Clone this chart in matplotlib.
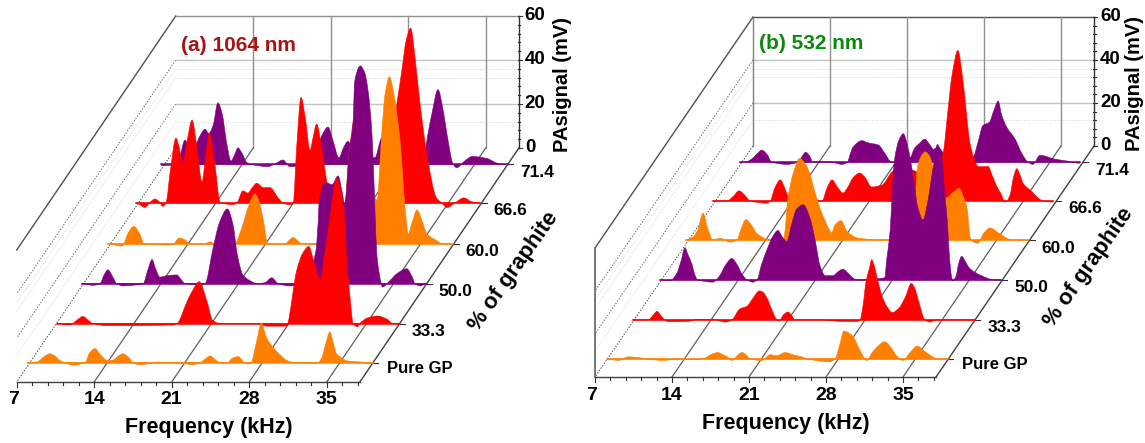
import matplotlib
matplotlib.use('Agg')
import matplotlib.pyplot as plt
from matplotlib.path import Path
from matplotlib.patches import PathPatch

plt.rcParams['font.family'] = ['Liberation Sans', 'DejaVu Sans']

PURPLE = '#800080'
RED = '#ff0000'
ORANGE = '#ff8000'

# (frequency kHz, signal mV), back row first
a_714 = [(6.7,-.5),(7.9,-.3),(8.3,2),(8.84,11),(9.3,8),(9.7,8),(10.2,13),(10.65,16),(11,14),(11.4,18),(11.82,28),
         (12.2,23),(12.6,10),(13,1.5),(13.3,4),(13.63,7.5),(14,5),(14.4,1),(14.8,0),(16.34,-1),(17,.3),(17.7,2),
         (18.3,-1),(20,0),(20.8,8),(21.3,14),(21.76,17),(22.2,11),(22.75,3),(23.2,8),(23.57,10.5),(24,7),(24.8,3),
         (26,3),(26.6,12),(27.5,14),(29,5),(30.3,0),(30.8,14),(31.15,23),(31.7,34),(32.15,25),(32.5,14),(33.07,0),
         (33.4,-1.5),(34.1,1.5),(34.8,3.6),(36.1,2.7),(37.1,.5),(37.9,0)]
a_666 = [(6.8,0),(7.6,-2),(8.1,.5),(8.5,1.8),(8.9,.5),(9.2,-1.5),(9.5,0),(9.9,15),(10.4,29.5),(10.7,25),(11,18),
         (11.4,28),(11.85,37.7),(12.3,25),(12.75,9.5),(13.1,22),(13.4,31.8),(13.9,18),(14.4,0),(15.55,-.7),(15.9,0),
         (16.45,5.5),(16.9,4.5),(17.3,7),(17.7,9),(18.27,7),(18.9,7),(19.6,2.5),(20.07,0),(20.7,-.8),(21,0),(21.3,25),
         (21.7,48),(22.1,38),(22.5,24),(22.8,30),(23.1,35.9),(23.6,24),(24.1,8),(24.8,0),(28.5,0),(29.3,10),(30.2,40),
         (30.8,60),(31.2,74),(31.6,79.5),(32,66),(32.4,47),(33.1,21),(33.9,2.7),(34.4,0),(34.9,-2),(35.6,0),(36.4,2.3),
         (37.1,.6),(37.85,0)]
a_600 = [(6.8,0),(8.04,-1),(8.2,0),(8.6,5),(9.1,8),(9.7,4),(10,0),(12.4,-.5),(12.7,0),(13.2,2.7),(13.7,2),(14.2,0),
         (15.5,0),(16,1),(16.4,0),(18.25,0),(18.7,5),(19.15,12),(19.6,19),(20.05,22.7),(20.5,18),(20.87,9),(21.2,0),
         (22.8,0),(23.1,1.5),(23.5,3),(23.9,1.5),(24.3,0),(27.7,0),(28.2,18),(28.5,38),(28.9,55),(29.3,62),(30,50),
         (30.6,25),(31.07,20),(31.5,50),(31.8,68),(32.2,76),(32.6,68),(33.15,47),(33.6,17),(33.9,4.5),(34.2,9),
         (34.7,15.5),(35.1,11),(35.6,4.5),(36.5,1.4),(37,0),(37.9,0)]
a_500 = [(6.85,0),(7.85,-.7),(8.5,0),(8.86,4),(9.2,6.3),(9.66,3),(10,0),(10.6,-1),(11.8,-.5),(12.4,0),(12.8,6),(13.2,11),
         (13.5,7),(13.9,3),(14.5,3.6),(15.45,4),(15.8,2),(16.2,0),(17.8,-.5),(18,0),(18.7,16),(19.3,28),(20,34),(20.5,27),
         (20.9,13),(21.4,4),(22,1.5),(22.7,0),(23.4,.5),(24,2.7),(24.6,0),(25.65,-1),(27,-.5),(28,15),(28.2,28),(28.3,38),
         (28.9,46),(29.45,45),(30,49),(30.35,42),(30.6,36),(31,60),(31.35,73),(31.5,92),(32,99),(32.4,96),(32.7,88),
         (33.06,68),(33.3,38),(33.5,13),(33.9,0),(34,-1.5),(34.7,1.5),(35.3,4.5),(36.2,6.8),(36.7,3),(36.95,0),(37.4,-1),(38,0)]
a_333 = [(7.05,0),(8.2,-.7),(8.85,1.5),(9.4,3.2),(9.85,1.5),(10.3,0),(11.56,-1),(17.5,-.7),(17.9,0),(18.8,10),(19.3,15),
         (19.9,19),(20.6,10),(21.1,1.5),(21.8,0),(25.1,0),(26,-1.2),(27.8,-1.2),(27.9,0),(28.7,24),(29.25,32),(29.8,35),
         (30.15,30),(30.5,24),(30.8,20),(31.25,32),(31.7,48),(32.3,66),(32.7,60),(33.05,48),(33.2,31),(33.5,13),(33.8,0),
         (34.2,-1.5),(34.4,0),(35.1,2.5),(36,3.4),(36.85,2),(37.4,0),(38,0)]
a_pure = [(6.83,0),(7.64,.3),(8.36,3),(8.8,4),(9.27,3),(9.7,1),(10.2,0),(10.9,-1.2),(11.7,-.5),(12,0),(12.4,4.5),(12.9,6.4),
          (13.3,4),(14,1),(14.4,1),(15,3),(15.4,4),(15.9,2.5),(16.3,0),(16.9,-1),(17.8,-.5),(18.5,.2),(20.8,-.2),(21.6,-1),
          (22.4,0),(22.8,1.5),(23.3,3),(23.7,1.5),(24.2,0),(24.8,-.2),(25.3,2),(25.8,2.7),(26.4,0),(26.9,-.5),(27,0),
          (27.5,10),(27.9,18),(28.4,11),(28.96,7),(29.6,3.5),(30.2,1),(30.9,0),(33,-.2),(33.35,2),(33.7,8),(34.1,14),
          (34.4,9),(34.7,4),(35.2,2),(35.6,.8),(36.8,.3),(38,-.5)]

b_714 = [(6.8,0),(7.45,.3),(7.9,1.5),(8.4,4),(8.8,5.6),(9.3,3.5),(9.7,0),(11.1,-1),(11.8,-.5),(12.3,1.5),(12.8,4.6),(13.2,2.5),
         (13.4,0),(14.1,.3),(14.8,.3),(16.1,-1),(16.6,0),(16.8,3),(17.1,7),(17.9,10),(18.45,9),(19.4,8),(20,4),(20.6,0),
         (21.8,0),(22.3,2),(22.7,6.5),(23.2,9),(23.6,10.7),(24.1,8),(24.4,6),(24.8,7),(25.5,3),(26.4,0),(27.3,0),(28,2),
         (28.5,10),(28.9,17),(29.5,18.6),(29.9,24),(30.3,28.4),(30.6,22),(31.1,16),(31.8,11),(32.45,4),(33,0),(33.45,-1),
         (34.1,3.2),(35.45,1.4),(36.6,.5),(37.7,-.5)]
b_666 = [(6.8,0),(8.05,0),(8.6,2),(9.15,4.7),(9.7,2.5),(10.15,0),(11.7,-1),(12,0),(12.4,6),(12.9,9.8),(13.3,6),(13.6,2),
         (13.8,0),(16.7,0),(17.15,6),(17.6,9.8),(18.15,6),(18.6,3.7),(19.05,6.5),(19.5,10.7),(20.1,13),(20.6,11),(21.2,6.5),
         (22.15,7.4),(23.05,13.5),(23.8,16),(25.1,14),(26.5,12),(27.2,15),(27.7,22),(28.1,40),(28.5,58),(29.05,70),(29.5,56),
         (29.8,42),(30.1,28),(30.5,20),(30.9,16),(31.8,16),(32.15,12),(32.6,6.5),(33,3),(33.3,-.5),(33.5,0),(33.8,3),(34.1,11),
         (34.4,15),(34.7,12),(35,8),(35.8,4.2),(36.3,1.5),(36.8,0),(37.7,-.5)]
b_600 = [(6.75,0),(7.4,1.5),(7.85,5),(8.3,12.5),(8.75,5),(9.2,0),(9.85,.8),(10.75,-1),(11.4,0),(11.75,5),(12.2,9.5),(12.7,7),
         (13.2,3),(14.4,0),(15.6,0),(15.75,4),(16,18.6),(16.5,31),(17.1,38),(17.65,35),(18,31),(18.55,21),(19.1,12.5),(19.4,9),
         (19.75,5),(20,3.4),(20.3,7),(20.85,9),(21.4,4),(22.3,1),(24.3,0),(27.05,0),(27.55,15),(27.8,34),(28.15,39),(28.5,41),
         (28.9,39),(29.1,36),(29.8,25),(30.4,19.5),(31,22),(31.6,24),(31.9,21),(32.3,15),(32.6,1),(32.9,-1),(33.3,-1.5),(33.8,3),
         (34.4,5.6),(35.3,2.8),(36.4,0),(37.85,0)]
b_500 = [(6.9,0),(7.8,-.3),(8.4,3),(8.8,9),(9.15,15),(9.4,12),(9.8,7),(10,3),(10.3,0),(11.7,-1),(12.3,2),(12.85,7),(13.4,10),
         (13.9,7),(14.3,3),(14.8,0),(15.3,-1),(15.7,0),(16.1,7),(16.6,14),(17.1,20),(17.6,23),(18,20),(18.4,18),(18.9,27),
         (19.3,33),(19.9,35),(20.5,29),(21,18),(21.4,7),(21.9,2),(22.6,2),(23.1,4),(23.5,5),(24,3),(24.4,1),(24.8,0),(27.3,1),
         (27.5,10),(27.8,23),(27.95,37),(28.2,56),(28.6,65),(29,68),(29.4,62),(29.9,48),(30.3,34),(30.8,28),(31.2,36),(31.7,52),
         (32.1,63),(32.5,56),(32.8,38),(33,27),(33.2,10),(33.4,1),(33.5,-.5),(33.8,2),(34,7),(34.3,11),(34.7,8),(35,5.5),(36.1,2),
         (37.3,0),(37.9,0)]
b_333 = [(6.9,0),(8.3,0),(8.7,2),(9.1,4),(9.45,2),(9.8,0),(10.1,-.8),(11.8,-.7),(12.8,.2),(14.2,.2),(15.3,-1),(15.9,0),(16.6,5),
         (17.3,6.5),(17.8,10),(18.4,13.5),(18.7,13),(19.1,10),(19.55,4.5),(20,0),(20.2,-.5),(20.6,2.5),(21,3.7),(21.4,1.5),(21.6,0),
         (24.2,0),(24.8,-.3),(26,-.7),(27.3,-.7),(27.55,0),(27.8,6),(28.1,18),(28.4,24),(28.6,28),(28.85,25),(29.1,19.5),(29.7,9),
         (30.5,3.5),(31.1,5.6),(31.7,11),(32.2,17),(32.5,15),(32.8,10),(33.45,0),(33.9,-1),(34.5,0),(38,0)]
b_pure = [(7,0),(8,-.7),(8.9,1),(9.7,.7),(12.05,-.7),(13.3,0),(15.15,-.3),(15.9,.5),(16.4,2),(17.05,3),(17.5,2),(17.9,1),(18.3,-.7),
          (18.8,1.5),(19.25,3),(19.6,2),(20,0),(21.05,-.7),(21.8,2),(22.4,1.5),(23.15,3),(24,1.8),(24.8,.8),(25.15,0),(27.25,-1.3),
          (27.7,0),(28.15,7),(28.5,13),(29.3,10.7),(29.9,4.7),(30.6,-.7),(31.05,2.8),(31.6,6),(32.2,8),(32.9,4.5),(33.3,1.4),
          (33.9,-.7),(34.3,1.5),(34.7,4),(35.15,6),(36.05,2.8),(37.05,0),(38,0)]

row_labels = ['Pure GP', '33.3', '50.0', '60.0', '66.6', '71.4']
row_colors = [ORANGE, RED, PURPLE, ORANGE, RED, PURPLE]
freq_ticks = [7, 14, 21, 28, 35]
signal_ticks = [0, 20, 40, 60]


def slopes(xs, ys):
    # tangent at each read point, flat on local peaks so the outline stays round
    m = [0.0] * len(xs)
    for i in range(1, len(xs) - 1):
        a = (ys[i] - ys[i - 1]) / (xs[i] - xs[i - 1])
        b = (ys[i + 1] - ys[i]) / (xs[i + 1] - xs[i])
        if a * b > 0:
            m[i] = 2 * a * b / (a + b)
    return m


def row_path(xs, ys, base):
    m = slopes(xs, ys)
    verts = [(xs[0], base), (xs[0], ys[0])]
    codes = [Path.MOVETO, Path.LINETO]
    for i in range(len(xs) - 1):
        h = xs[i + 1] - xs[i]
        verts += [(xs[i] + h / 3, ys[i] + m[i] * h / 3), (xs[i + 1] - h / 3, ys[i + 1] - m[i + 1] * h / 3), (xs[i + 1], ys[i + 1])]
        codes += [Path.CURVE4] * 3
    verts += [(xs[-1], base), (xs[0], base)]
    codes += [Path.LINETO, Path.CLOSEPOLY]
    return Path(verts, codes)


def draw_panel(ax, rows, x0, y0, sx, sz, dx, dy, depths, title, title_color, title_xy, wall7, top_color, ylabel_dx):
    # pseudo 3D: frequency to the right, depth up the slope, signal straight up
    def px(f, d=0.0):
        return x0 + (f - 7) * sx + d * dx

    def py(z, d=0.0):
        return y0 - d * dy - z * sz

    # back and left walls
    for z in [12, 32, 36]:
        ax.plot([px(7, 1), px(38, 1)], [py(z, 1), py(z, 1)], color='#d0d0d0', lw=0.7, ls=':', zorder=1)
        ax.plot([px(7, 1), px(7, 0)], [py(z, 1), py(z, 0)], color='#d8d8d8', lw=0.7, ls=':', zorder=1)
    for z in [20, 40]:
        ax.plot([px(7, 1), px(38, 1)], [py(z, 1), py(z, 1)], color='#c4c4c4', lw=1, zorder=1)
        ax.plot([px(7, 1), px(7, 0)], [py(z, 1), py(z, 0)], color='#707070', lw=0.7, ls=(0, (1.5, 1.5)), zorder=1)
    ax.plot([px(7, 1), px(7, 0)], [py(0, 1), py(0, 0)], color='#505050', lw=0.7, ls=(0, (1.5, 1.5)), zorder=1)
    ax.plot([px(7, 1), px(7, 0)], [py(60, 1), py(60, 0)], color='#505050', lw=1, zorder=1)
    ax.plot([px(7, 1), px(38, 1)], [py(60, 1), py(60, 1)], color=top_color, lw=1, zorder=1)
    if wall7:
        ax.plot([px(7, 1), px(7, 1)], [py(0, 1), py(60, 1)], color='#808080', lw=1, zorder=1)
        ax.plot([px(7, 0), px(7, 0)], [py(0, 0), py(60, 0)], color='#606060', lw=1.2, zorder=1)
    for f in freq_ticks[1:]:
        ax.plot([px(f, 1), px(f, 1)], [py(0, 1), py(60, 1)], color='#909090', lw=1, zorder=1)
        ax.plot([px(f, 0), px(f, 1)], [py(0, 0), py(0, 1)], color='#606060', lw=0.9, zorder=1)

    # axes lines and ticks
    ax.plot([px(7), px(38)], [py(0), py(0)], color='#404040', lw=1, zorder=1)
    ax.plot([px(38, 0), px(38, 1)], [py(0, 0), py(0, 1)], color='#404040', lw=1, zorder=1)
    ax.plot([px(38, 1), px(38, 1)], [py(0, 1), py(60, 1)], color='#303030', lw=1, zorder=1)
    for i in range(23):
        f = 7 + i * 1.4
        ax.plot([px(f), px(f)], [py(0), py(0) + (5 if i % 5 == 0 else 2.5)], color='#303030', lw=0.8, zorder=1)
    for z in range(0, 61, 4):
        major = z in signal_ticks
        ax.plot([px(38, 1) - 1, px(38, 1) + (3 if major else 1.5)], [py(z, 1), py(z, 1)], color='#303030', lw=0.8, zorder=1)

    # rows, back to front
    for i in range(5, -1, -1):
        d = depths[i]
        fs = [p[0] for p in rows[i]]
        zs = [p[1] for p in rows[i]]
        xs = [px(f, d) for f in fs]
        ys = [py(z, d) for z in zs]
        base = py(0, d)
        order = 10 - i
        ax.add_patch(PathPatch(row_path(xs, ys, base), facecolor=row_colors[i], edgecolor=row_colors[i], lw=0.4, zorder=order))
        ax.plot([xs[0], xs[-1]], [base, base], color=row_colors[i], lw=1.1, zorder=order)
        ax.plot([px(38, d), px(38, d) + 5], [base, base], color='#303030', lw=0.8, zorder=1)
        if i == 0:
            ax.text(px(38, d) + 14, base + 6, row_labels[i], ha='left', va='center', fontsize=12, weight='bold')
        else:
            ax.text(px(38, d) + 29, base + 8, row_labels[i], ha='center', va='center', fontsize=12.5, weight='bold')

    for f in freq_ticks:
        ax.text(px(f) - (3 if f == 7 else 0), py(0) + 18, str(f), ha='center', va='center', fontsize=14, weight='bold')
    for z in signal_ticks:
        ax.text(px(38, 1) + 6, py(z, 1) - 1, str(z), ha='left', va='center', fontsize=13.5, weight='bold')

    ax.text(px(22.6) + 19, py(0) + 46, 'Frequency (kHz)', ha='center', va='center', fontsize=15.5, weight='bold')
    ax.text(px(38, 1) + ylabel_dx, py(29, 1), 'PAsignal (mV)', rotation=90, ha='center', va='center', fontsize=14.5, weight='bold')
    ax.text(px(38, 0.5) + 74, py(0, 0.5) + 6, '% of graphite', rotation=55, ha='center', va='center', fontsize=16,
            weight='bold', rotation_mode='anchor')
    ax.text(title_xy[0], title_xy[1], title, color=title_color, ha='left', va='center', fontsize=15, weight='bold')


fig = plt.figure(figsize=(11.45, 4.43), dpi=100)
ax = fig.add_axes([0, 0, 1, 1])
ax.set_xlim(0, 1145)
ax.set_ylim(443, 0)
ax.axis('off')

depths_a = [0.083, 0.25, 0.42, 0.59, 0.765, 0.93]
depths_b = [0.078, 0.247, 0.42, 0.593, 0.762, 0.93]
draw_panel(ax, [a_pure, a_333, a_500, a_600, a_666, a_714], 16.7, 382, 11.07, 2.2, 159, 234, depths_a,
           '(a) 1064 nm', '#a81414', (181, 45), False, '#909090', 44)
draw_panel(ax, [b_pure, b_333, b_500, b_600, b_666, b_714], 595, 377, 11.0, 2.15, 158, 231, depths_b,
           '(b) 532 nm', '#0a8a0a', (759, 43), True, '#505050', 41)

fig.savefig('out.png', dpi=100)
